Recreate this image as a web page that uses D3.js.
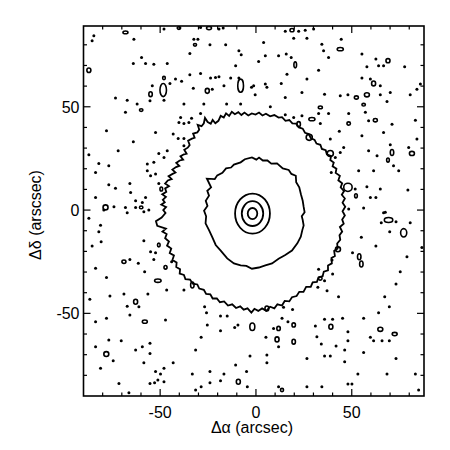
<!DOCTYPE html>
<html><head><meta charset="utf-8">
<script src="https://cdn.jsdelivr.net/npm/d3@7"></script>
<style>body{margin:0;background:#fff}svg{display:block}</style>
</head><body>
<svg id="c" width="450" height="450"></svg>
<script>
// ---- data (arcsec) ----
const xDomain = [-90, 87.7];
const yDomain = [-90, 89.1];
const majorTicks = [-50, 0, 50];
const minorTicks = [-80, -70, -60, -40, -30, -20, -10, 10, 20, 30, 40, 60, 70, 80];
const xTitle = "Δα (arcsec)";
const yTitle = "Δδ (arscsec)";

// outer (lowest) contour around the source
const outerContour = [[-48.4,0],[-46.9,1.5],[-49.4,2.6],[-47.6,3.8],[-48.6,5.0],[-47.0,6.4],[-48.9,7.6],[-46.8,8.8],[-47.4,10.5],[-45.4,11.6],[-47.4,12.8],[-46.0,14.3],[-44.0,15.0],[-45.6,16.4],[-43.5,17.5],[-42.0,18.2],[-43.6,19.6],[-41.7,20.8],[-40.0,21.4],[-41.6,22.8],[-39.8,24.0],[-38.0,24.4],[-39.4,26.0],[-37.6,27.0],[-36.2,27.3],[-37.4,29.2],[-35.6,30.2],[-34.6,31.5],[-35.4,33.6],[-33.4,34.6],[-32.0,35.0],[-32.8,37.0],[-30.6,37.6],[-29.6,39.0],[-30.4,41.2],[-28.4,40.6],[-27.2,42.0],[-26.6,44.6],[-25.2,42.6],[-23.6,41.8],[-22.6,43.6],[-21.2,42.0],[-19.6,43.2],[-18.4,45.6],[-16.8,44.8],[-15.6,46.8],[-14.0,45.6],[-12.6,47.6],[-11.0,46.4],[-9.2,47.4],[-7.6,46.0],[-6.0,47.2],[-4.0,45.8],[-2.2,46.8],[-0.2,46.2],[1.6,47.2],[3.4,45.8],[5.2,46.6],[7.4,45.4],[9.6,46.0],[11.8,44.8],[13.6,45.0],[15.4,43.2],[17.4,43.6],[19.0,42.0],[21.0,41.8],[22.4,40.0],[24.4,39.4],[25.6,37.4],[27.6,36.8],[28.6,34.8],[30.6,34.0],[31.6,32.2],[33.6,31.6],[34.4,29.6],[36.4,29.0],[37.0,27.0],[39.2,26.2],[38.8,24.2],[40.6,23.0],[40.0,21.2],[42.0,20.0],[41.6,18.0],[43.8,16.6],[43.0,14.4],[45.0,13.0],[44.2,11.0],[46.0,9.2],[44.8,7.4],[46.4,5.6],[45.2,3.6],[46.6,1.6],[45.2,-0.6],[46.4,-2.6],[45.0,-4.6],[45.8,-6.6],[43.8,-8.2],[45.0,-10.4],[43.6,-12.2],[44.0,-14.4],[42.4,-16.2],[42.6,-18.6],[40.8,-19.8],[41.2,-22.2],[39.4,-23.2],[39.6,-25.8],[37.6,-26.8],[37.6,-29.2],[35.4,-29.8],[34.8,-32.0],[32.6,-32.6],[31.8,-34.8],[29.6,-35.0],[28.6,-37.2],[26.2,-37.2],[24.8,-39.6],[22.6,-39.6],[21.2,-41.6],[18.8,-42.2],[17.4,-44.2],[15.0,-44.0],[13.6,-46.2],[11.2,-45.6],[9.6,-47.6],[7.4,-46.8],[5.4,-48.8],[3.2,-47.6],[1.2,-48.8],[-0.8,-47.8],[-2.4,-49.6],[-4.4,-47.6],[-6.4,-48.2],[-8.2,-46.6],[-10.4,-47.4],[-12.4,-45.6],[-14.6,-46.2],[-16.6,-44.2],[-18.8,-44.6],[-20.4,-42.8],[-22.6,-42.8],[-23.8,-40.8],[-26.0,-40.6],[-27.2,-38.6],[-29.6,-38.0],[-30.6,-36.0],[-33.0,-35.6],[-34.4,-33.6],[-36.8,-33.4],[-37.6,-31.4],[-39.8,-30.8],[-39.6,-28.6],[-41.6,-27.6],[-41.4,-25.4],[-43.6,-24.2],[-42.8,-22.0],[-45.0,-20.8],[-44.2,-18.6],[-46.4,-17.2],[-45.4,-15.2],[-47.4,-13.6],[-46.6,-11.6],[-48.8,-10.4],[-47.0,-9.0],[-51.5,-7.6],[-52.2,-5.4],[-49.2,-3.6],[-47.2,-1.4]];

// second contour
const innerContour = [[-27.1,-0.3],[-25.3,2.0],[-26.2,4.5],[-24.5,7.0],[-25.4,9.3],[-23.4,11.0],[-25.6,15.2],[-21.5,15.0],[-20.2,16.8],[-17.5,18.0],[-15.6,20.2],[-13.0,20.6],[-11.5,22.0],[-8.0,23.1],[-5.8,24.6],[-2.1,25.5],[0.2,24.4],[1.6,25.4],[3.6,24.0],[6.0,24.0],[8.0,22.5],[11.0,22.6],[14.0,20.2],[17.1,19.4],[18.5,17.5],[20.8,16.6],[21.0,13.5],[22.6,11.0],[23.5,7.5],[24.4,4.5],[24.9,1.5],[25.4,-1.1],[23.9,-3.0],[24.4,-4.8],[24.9,-7.5],[24.2,-9.7],[23.4,-12.9],[21.6,-16.1],[18.8,-19.6],[15.3,-21.8],[11.8,-23.6],[8.4,-25.8],[4.9,-26.8],[1.5,-27.8],[-2.1,-28.4],[-5.0,-27.0],[-8.0,-26.8],[-11.5,-25.8],[-15.0,-23.4],[-18.4,-19.6],[-21.0,-16.9],[-22.8,-13.1],[-24.5,-9.7],[-26.3,-6.4],[-26.0,-3.0]];

// core contours: [centerX, centerY, radiusX, radiusY]
const coreContours = [[-1.8,-1.7,9.1,9.7],[-1.8,-1.7,5.6,6.0],[-1.8,-1.7,2.5,2.7]];

// small noise loops: [x, y, rx, ry]
const noiseLoops = [
[-68.1,86.0,1.3,0.65],[-40.2,88.1,0.9,0.65],[-24.5,88.1,1.3,0.8],[-31.8,80.0,0.8,0.65],[-87.2,67.7,1.05,1.1],[-48.0,63.9,0.7,0.8],[-48.4,58.1,1.7,3.2],[-55.0,56.1,0.9,1.2],[-25.4,57.7,1.05,1.2],[-8.0,60.2,1.5,3.2],[-59.9,48.4,0.9,0.65],[-49.4,10.2,0.7,1.0],[-78.5,1.3,1.3,1.2],[-59.9,1.3,0.9,0.65],
[18.8,87.1,1.05,0.8],[44.0,77.9,1.6,0.8],[20.5,70.3,0.7,1.45],[68.9,72.3,1.05,1.0],[61.4,61.3,1.05,1.2],[52.4,54.5,1.05,0.8],[57.9,55.8,1.3,1.0],[56.2,51.0,0.9,0.65],[33.6,49.7,1.05,0.65],[29.2,44.0,1.6,0.8],[22.3,41.6,0.9,1.2],[48.4,41.9,0.9,0.8],[62.3,43.5,1.05,0.8],[27.8,35.2,1.6,1.45],[38.8,27.4,1.6,1.45],[68.9,24.2,0.7,1.0],[71.0,27.9,0.9,1.45],[81.4,27.4,1.3,1.0],[48.0,11.0,2.2,2.0],[52.2,6.9,0.7,1.0],
[-50.7,-16.9,0.7,0.9],[-68.9,-25.0,1.05,0.8],[-47.2,-27.7,0.8,0.9],[-51.2,-34.2,1.7,0.8],[-33.2,-36.3,0.9,1.45],[-62.8,-44.4,1.05,1.2],[-58.0,-54.0,1.3,0.8],[-1.9,-56.5,1.3,1.8],[-78.1,-69.7,1.3,1.2],[-9.2,-83.1,1.05,1.2],
[69.2,-4.8,2.2,1.2],[77.1,-11.0,1.6,2.0],[53.9,-22.6,0.9,1.45],[55.0,-26.1,0.9,1.45],[42.8,-19.0,1.3,1.2],[33.6,-33.1,0.9,0.8],[5.7,-47.6,1.0,1.2],[19.7,-55.6,0.9,1.0],[11.8,-57.3,0.9,1.0],[39.1,-56.5,1.05,1.2],[64.9,-57.7,1.3,1.0],[72.4,-60.0,1.3,0.8],[11.0,-62.6,1.05,1.2],[19.7,-63.7,0.9,1.2],[13.6,-87.1,0.8,0.8]
];

// single-pixel noise peaks: [x, y]
const noiseDots = [
[-63.7,82.7],[-48.0,87.6],[-28.9,88.4],[-19.3,87.6],[-17.1,88.1],[-84.6,84.4],[-85.5,81.9],[-32.4,82.7],[-30.3,82.7],[-24.0,80.0],[-15.8,80.0],[-34.5,75.8],[-8.9,77.1],[-7.7,75.2],[-64.0,71.0],[-59.7,73.9],[-57.6,71.0],[-53.3,70.6],[-46.3,71.0],[-10.6,69.8],[-42.0,63.4],[-38.8,62.3],[-34.5,65.5],[-28.9,66.1],[-23.7,63.9],[-21.1,64.2],[-19.3,64.5],[-54.1,60.2],[-44.9,61.3],[-32.7,59.0],[-22.8,58.5],[-16.7,60.2],[-13.2,63.9],[-8.9,63.9],[-2.3,59.4],[-73.3,54.2],[-67.2,53.2],[-62.0,51.3],[-55.3,52.9],[-48.0,53.2],[-37.6,51.3],[-27.2,51.3],[-15.3,51.3],[-8.0,51.3],[-68.1,47.3],[-39.3,44.8],[-33.6,44.5],[-28.9,46.8],[-40.2,42.4],[-37.6,41.9],[-35.0,42.4],[-78.0,38.4],[-52.4,37.6],[-40.6,34.7],[-37.6,34.7],[-43.2,36.8],[-64.0,33.1],[-71.9,28.7],[-37.6,31.1],[-50.7,27.4],[-46.3,28.7],[-48.0,25.5],[-87.2,26.8],[-82.0,22.6],[-76.8,21.4],[-56.7,22.3],[-53.3,23.1],[-83.7,18.2],[-56.7,19.0],[-55.0,16.6],[-52.4,17.4],[-50.7,12.9],[-65.8,12.9],[-76.8,12.3],[-73.3,10.6],[-83.7,6.1],[-65.4,8.5],[-57.6,6.1],[-59.3,3.7],[-62.8,4.5],[-74.1,1.6],[-68.1,1.3],[-62.8,1.3],[-55.9,0.0],
[15.3,86.5],[22.3,86.5],[25.7,87.1],[30.1,87.6],[19.7,83.2],[26.6,83.2],[4.0,81.1],[34.4,80.3],[44.5,82.7],[35.3,77.1],[15.8,75.5],[4.9,74.7],[11.8,74.7],[18.4,73.9],[1.4,71.9],[37.9,73.9],[55.3,75.5],[62.6,73.1],[64.0,69.8],[66.6,69.8],[57.9,69.4],[77.6,69.4],[16.2,65.8],[32.7,67.7],[26.6,63.4],[13.2,61.3],[-1.2,60.2],[4.9,61.0],[5.7,59.4],[55.3,63.9],[59.7,63.4],[64.9,60.2],[85.8,61.0],[84.0,58.5],[-0.4,55.8],[15.3,54.5],[24.0,56.9],[35.8,56.1],[44.0,55.3],[48.0,55.8],[64.9,55.8],[68.4,52.6],[70.1,56.9],[80.5,55.8],[7.5,50.0],[32.7,46.8],[37.9,46.8],[48.4,46.8],[57.1,47.3],[15.3,46.1],[19.7,44.8],[24.0,45.6],[33.6,41.9],[58.8,43.2],[71.0,41.6],[83.2,43.5],[43.5,38.1],[38.8,34.4],[55.3,36.0],[66.6,37.6],[84.0,34.4],[70.1,31.6],[45.8,30.3],[44.0,27.9],[41.4,25.5],[58.8,28.7],[63.2,26.3],[79.7,30.3],[71.8,21.4],[74.5,19.0],[53.6,19.0],[61.4,19.0],[39.3,18.2],[51.8,10.2],[57.9,11.3],[64.9,10.2],[79.3,9.7],[59.7,6.1],[62.6,6.1],[48.4,0.5],[56.2,1.0],[67.5,-1.1],
[-79.4,0],[-67.2,-1.3],[-58.5,-0.8],[-87.2,-4.0],[-81.1,-7.3],[-82.0,-10.5],[-80.8,-15.3],[-85.5,-17.4],[-58.5,-14.8],[-55.0,-20.2],[-52.4,-20.6],[-65.8,-23.9],[-61.4,-25.8],[-53.3,-23.9],[-44.0,-25.0],[-83.7,-28.2],[-58.1,-29.8],[-78.0,-32.7],[-46.6,-38.7],[-37.6,-38.7],[-76.2,-41.6],[-86.7,-43.2],[-68.9,-40.6],[-56.4,-40.6],[-67.2,-46.5],[-61.1,-46.8],[-65.8,-50.8],[-78.0,-52.4],[-83.7,-54.0],[-47.2,-53.2],[-26.8,-46.8],[-25.8,-49.7],[-25.4,-55.6],[-18.5,-51.3],[-15.0,-51.3],[-18.5,-58.4],[-9.4,-55.6],[-11.1,-56.8],[-28.6,-61.6],[-76.8,-62.9],[-70.3,-63.2],[-83.7,-66.1],[-55.3,-64.5],[-59.3,-66.1],[-62.8,-67.7],[-55.3,-69.4],[-31.5,-67.7],[-74.5,-72.9],[-58.5,-73.9],[-43.2,-73.9],[-3.1,-70.6],[-10.6,-75.0],[-81.1,-76.6],[-48.0,-76.6],[-52.4,-78.2],[-49.8,-79.4],[-51.2,-82.3],[-24.0,-78.2],[-16.7,-79.4],[-4.9,-78.2],[-33.2,-79.4],[-71.5,-83.9],[-55.3,-83.9],[-52.9,-83.6],[-48.0,-83.1],[-24.0,-83.6],[-18.5,-82.6],[-4.5,-85.5],[-31.5,-87.1],[-28.6,-85.5],[-66.3,-88.4],
[66.6,-1.3],[73.1,-5.6],[65.4,-6.1],[80.5,-6.1],[69.8,-10.5],[55.0,-13.2],[62.6,-17.4],[86.6,-18.1],[50.4,-20.6],[78.8,-22.6],[75.3,-29.8],[73.1,-35.8],[39.7,-24.2],[40.0,-31.0],[32.7,-28.7],[35.8,-34.2],[32.3,-37.4],[37.1,-39.0],[43.1,-41.9],[67.2,-41.9],[69.6,-46.8],[64.0,-49.7],[19.1,-48.1],[14.4,-47.1],[13.6,-52.4],[35.8,-52.9],[40.0,-52.9],[45.2,-52.4],[56.2,-52.4],[16.7,-54.0],[31.0,-56.1],[9.2,-57.3],[5.2,-61.6],[31.8,-61.3],[34.1,-64.8],[41.8,-65.8],[48.0,-58.9],[48.0,-63.2],[59.7,-61.6],[61.4,-63.2],[65.8,-63.2],[69.6,-63.2],[11.8,-66.1],[46.3,-67.7],[56.2,-69.0],[5.7,-70.2],[5.7,-73.9],[26.6,-71.8],[35.8,-70.6],[38.8,-70.6],[46.3,-73.4],[73.1,-71.8],[53.2,-79.4],[68.4,-79.4],[83.2,-79.4],[48.0,-84.2],[50.1,-84.2],[34.4,-85.5],[26.6,-85.5],[11.8,-85.5],[84.9,-87.1]
];

// ---- drawing ----
const svg = d3.select("#c");
const L = 83.5, R = 424, T = 26, B = 396;
const x = d3.scaleLinear().domain(xDomain).range([L, R]);
const y = d3.scaleLinear().domain(yDomain).range([B, T]);
const font = "'Liberation Sans', Arial, Helvetica, sans-serif";

svg.append("clipPath").attr("id","pc").append("rect")
  .attr("x",L).attr("y",T).attr("width",R-L).attr("height",B-T);
const g = svg.append("g").attr("clip-path","url(#pc)");

const line = d3.line().x(d=>x(d[0])).y(d=>y(d[1])).curve(d3.curveLinearClosed);
const ink = "#000";
const sw = 1.8;

g.selectAll("path.ring").data([outerContour, innerContour]).join("path")
  .attr("class","ring").attr("d", line)
  .attr("fill","none").attr("stroke",ink).attr("stroke-width",sw).attr("stroke-linejoin","miter");

g.selectAll("ellipse.core").data(coreContours).join("ellipse")
  .attr("class","core")
  .attr("cx",d=>x(d[0])).attr("cy",d=>y(d[1]))
  .attr("rx",d=>x(d[0]+d[2])-x(d[0])).attr("ry",d=>y(d[1])-y(d[1]+d[3]))
  .attr("fill","none").attr("stroke",ink).attr("stroke-width",sw);

g.selectAll("ellipse.loop").data(noiseLoops).join("ellipse")
  .attr("class","loop")
  .attr("cx",d=>x(d[0])).attr("cy",d=>y(d[1]))
  .attr("rx",d=>x(d[0]+d[2])-x(d[0])).attr("ry",d=>y(d[1])-y(d[1]+d[3]))
  .attr("fill","none").attr("stroke",ink).attr("stroke-width",1.6);

g.selectAll("circle.dot").data(noiseDots).join("circle")
  .attr("class","dot")
  .attr("cx",d=>x(d[0])).attr("cy",d=>y(d[1])).attr("r",1.5)
  .attr("fill",ink);

// frame
svg.append("rect").attr("x",L).attr("y",T).attr("width",R-L).attr("height",B-T)
  .attr("fill","none").attr("stroke",ink).attr("stroke-width",1.6);

// ticks on all four sides, pointing inward
const tk = svg.append("g").attr("stroke",ink).attr("stroke-width",1.2);
const tickSets = [[majorTicks,7],[minorTicks,3.5]];
tickSets.forEach(([vals,len])=>{
  vals.forEach(v=>{
    tk.append("line").attr("x1",x(v)).attr("x2",x(v)).attr("y1",B).attr("y2",B-len);
    tk.append("line").attr("x1",x(v)).attr("x2",x(v)).attr("y1",T).attr("y2",T+len);
    tk.append("line").attr("y1",y(v)).attr("y2",y(v)).attr("x1",L).attr("x2",L+len);
    tk.append("line").attr("y1",y(v)).attr("y2",y(v)).attr("x1",R).attr("x2",R-len);
  });
});

const fmt = v => (v<0 ? "-" : "") + Math.abs(v);
svg.selectAll("text.xt").data(majorTicks).join("text").attr("class","xt")
  .attr("x",d=>x(d)).attr("y",417.5).attr("text-anchor","middle")
  .attr("font-family",font).attr("font-size",16).text(fmt);
svg.selectAll("text.yt").data(majorTicks).join("text").attr("class","yt")
  .attr("x",79.5).attr("y",d=>y(d)+6).attr("text-anchor","end")
  .attr("font-family",font).attr("font-size",16).text(fmt);

svg.append("text").attr("x",252).attr("y",433).attr("text-anchor","middle")
  .attr("font-family",font).attr("font-size",16).text(xTitle);
svg.append("text").attr("transform","translate(41,215) rotate(-90)").attr("text-anchor","middle")
  .attr("font-family",font).attr("font-size",16).text(yTitle);
</script>
</body></html>
